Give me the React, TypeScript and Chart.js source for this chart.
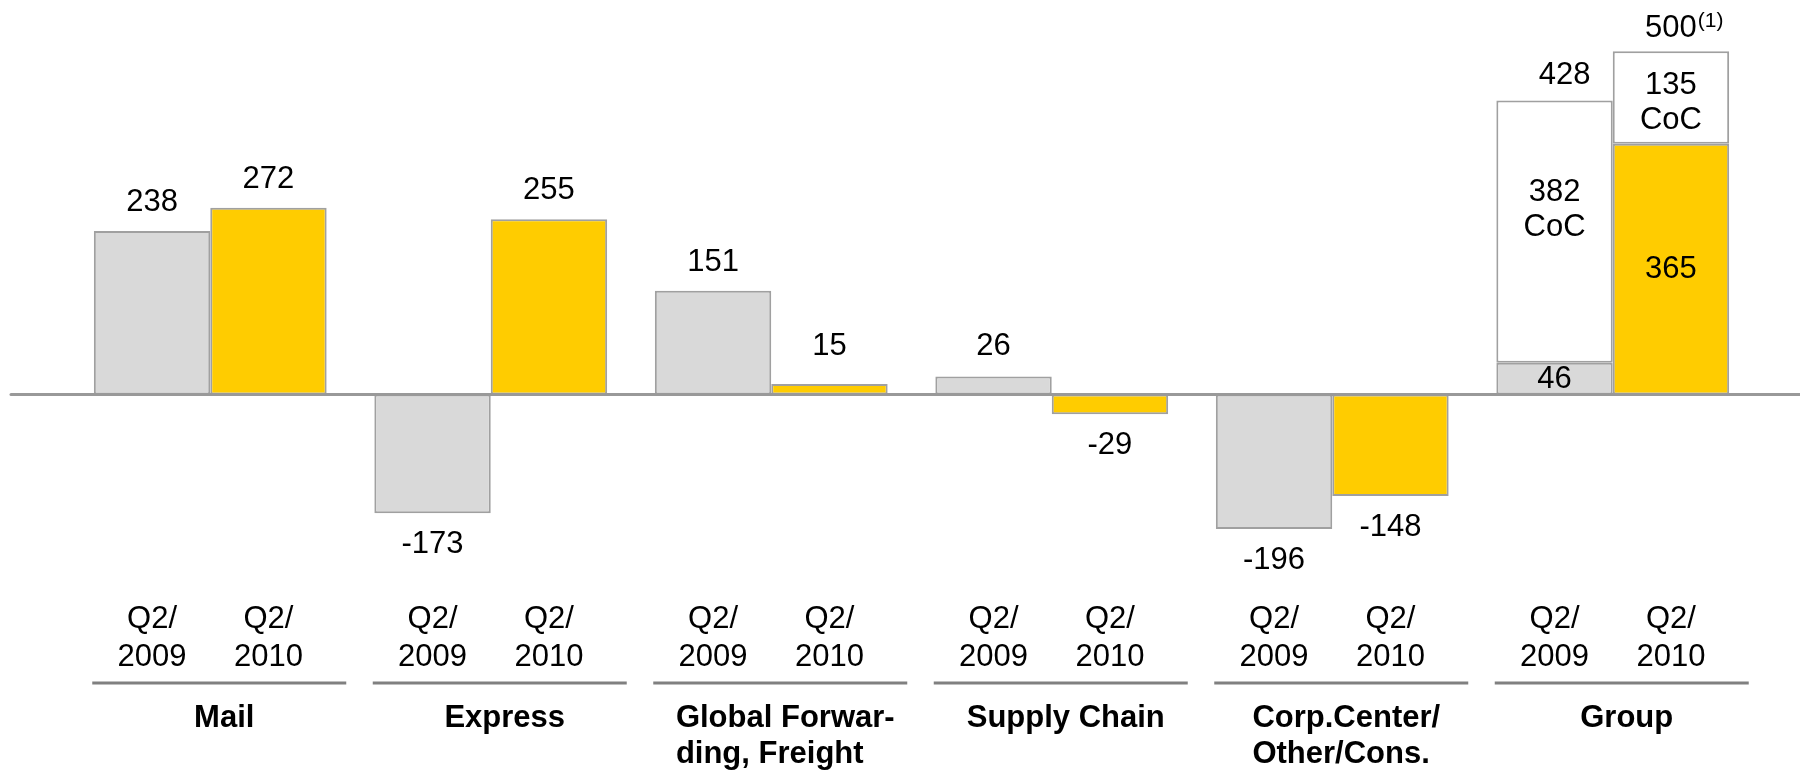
import React, { useEffect, useRef } from "react";
import { Chart, registerables } from "chart.js";

Chart.register(...registerables);

// ---- data ----
const categories: string[][] = [
  ["Mail"],
  ["Express"],
  ["Global Forwar-", "ding, Freight"],
  ["Supply Chain"],
  ["Corp.Center/", "Other/Cons."],
  ["Group"],
];
const periodLabels: string[][] = [
  ["Q2/", "2009"],
  ["Q2/", "2010"],
];
const ebit2009: number[] = [238, -173, 151, 26, -196, 46];
const ebit2010: number[] = [272, 255, 15, -29, -148, 365];
const coc2009: (number | null)[] = [null, null, null, null, null, 382];
const coc2010: (number | null)[] = [null, null, null, null, null, 135];
const cocText = "CoC";
const footnoteMark = "(1)";

// ---- styles ----
const GRAY = "#d9d9d9";
const YELLOW = "#ffcc00";
const BORDER = "#a0a0a0";
const FONT_FAMILY = '"Liberation Sans", Arial, sans-serif';
const font = (size: number, bold = false) =>
  `${bold ? "bold " : ""}${size}px ${FONT_FAMILY}`;

const annotations = {
  id: "annotations",
  afterDatasetsDraw(chart: any) {
    const ctx: CanvasRenderingContext2D = chart.ctx;
    const area = chart.chartArea;
    const yScale = chart.scales.y;
    const xScale = chart.scales.x;
    const zeroY = yScale.getPixelForValue(0);

    ctx.save();
    // zero line
    ctx.strokeStyle = "#999999";
    ctx.lineWidth = 3;
    ctx.lineCap = "round";
    ctx.beginPath();
    ctx.moveTo(11, zeroY);
    ctx.lineTo(chart.width + 5, zeroY);
    ctx.stroke();

    ctx.fillStyle = "#000";
    ctx.textBaseline = "alphabetic";
    const metas = [0, 1, 2, 3].map((i) => chart.getDatasetMeta(i));
    const baseSeries = [ebit2009, ebit2010];
    const cocSeries = [coc2009, coc2010];

    for (let i = 0; i < categories.length; i++) {
      for (let k = 0; k < 2; k++) {
        const bar = metas[k].data[i];
        const v = baseSeries[k][i];
        ctx.font = font(31);
        ctx.textAlign = "center";
        // period labels under each bar
        ctx.fillText(periodLabels[k][0], bar.x, area.bottom + 62);
        ctx.fillText(periodLabels[k][1], bar.x, area.bottom + 100);

        const coc = cocSeries[k][i];
        if (coc != null) {
          const top = Math.min(bar.y, bar.base);
          const bot = Math.max(bar.y, bar.base);
          ctx.fillText(String(v), bar.x, (top + bot) / 2 + 9);

          const cbar = metas[k + 2].data[i];
          const ctop = Math.min(cbar.y, cbar.base);
          const off = k === 0 ? 100 : 43;
          ctx.fillText(String(coc), cbar.x, ctop + off);
          ctx.fillText(cocText, cbar.x, ctop + off + 35);

          const total = v + coc;
          if (k === 0) {
            ctx.fillText(String(total), cbar.x + 10, ctop - 17);
          } else {
            const t = String(total);
            ctx.fillText(t, cbar.x, ctop - 14);
            const w = ctx.measureText(t).width;
            ctx.font = font(21);
            ctx.textAlign = "left";
            ctx.fillText(footnoteMark, cbar.x + w / 2 + 1, ctop - 24);
          }
        } else if (v >= 0) {
          ctx.fillText(String(v), bar.x, Math.min(bar.y - 20, zeroY - 39));
        } else {
          ctx.fillText(String(v), bar.x, bar.y + 40);
        }
      }

      // category rule and name
      const cx = xScale.getPixelForValue(i);
      ctx.strokeStyle = "#808080";
      ctx.lineWidth = 3;
      ctx.lineCap = "butt";
      ctx.beginPath();
      ctx.moveTo(cx - 118, area.bottom + 117);
      ctx.lineTo(cx + 136, area.bottom + 117);
      ctx.stroke();

      ctx.font = font(31, true);
      const lines = categories[i];
      const maxW = Math.max(...lines.map((l) => ctx.measureText(l).width));
      ctx.textAlign = "left";
      lines.forEach((l, j) => {
        ctx.fillText(l, cx + 14 - maxW / 2, area.bottom + 161 + j * 36);
      });
    }
    ctx.restore();
  },
};

export default function App() {
  const ref = useRef<HTMLCanvasElement>(null);
  useEffect(() => {
    if (!ref.current) return;
    const chart = new Chart(ref.current, {
      type: "bar",
      data: {
        labels: categories.map((c) => c.join(" ")),
        datasets: [
          {
            label: "Q2/2009",
            data: ebit2009,
            stack: "s2009",
            backgroundColor: GRAY,
            borderColor: BORDER,
            borderWidth: 2,
            borderSkipped: false,
          },
          {
            label: "Q2/2010",
            data: ebit2010,
            stack: "s2010",
            backgroundColor: YELLOW,
            borderColor: BORDER,
            borderWidth: 2,
            borderSkipped: false,
          },
          {
            label: "CoC 2009",
            data: coc2009,
            stack: "s2009",
            backgroundColor: "#ffffff",
            borderColor: BORDER,
            borderWidth: 2,
            borderSkipped: false,
          },
          {
            label: "CoC 2010",
            data: coc2010,
            stack: "s2010",
            backgroundColor: "#ffffff",
            borderColor: BORDER,
            borderWidth: 2,
            borderSkipped: false,
          },
        ] as any,
      },
      options: {
        animation: false,
        responsive: true,
        maintainAspectRatio: false,
        datasets: {
          bar: { categoryPercentage: 0.83, barPercentage: 1.0 },
        } as any,
        layout: { padding: { left: 70, right: 47, top: 10, bottom: 206 } },
        plugins: {
          legend: { display: false },
          tooltip: { enabled: false },
        },
        scales: {
          x: { display: false, stacked: true },
          y: { display: false, stacked: true, min: -250, max: 560 },
        },
      },
      plugins: [annotations],
    });
    return () => chart.destroy();
  }, []);

  return (
    <div
      style={{
        position: "fixed",
        left: 0,
        top: 0,
        width: 1800,
        height: 772,
        background: "#ffffff",
      }}
    >
      <canvas ref={ref} />
    </div>
  );
}
